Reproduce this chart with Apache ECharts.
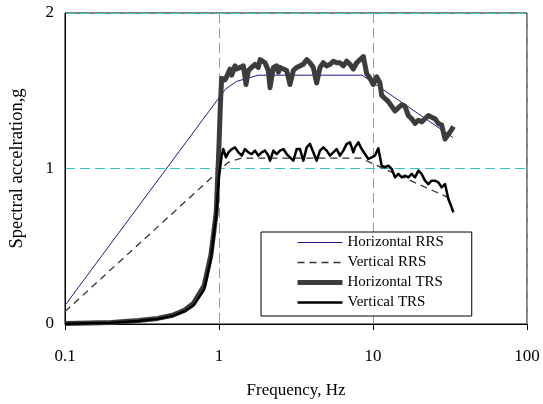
<!DOCTYPE html>
<html>
<head>
<meta charset="utf-8">
<script src="https://cdn.jsdelivr.net/npm/echarts@6/dist/echarts.min.js"></script>
<style>html,body{margin:0;padding:0;background:#fff}#c{width:543px;height:404px}</style>
</head>
<body>
<div id="c"></div>
<script>
// Tick values
var yTicks = [0, 1, 2];
var xRange = [0.1, 100];

// Required response spectra [frequency Hz, acceleration g]
var horizontalRRS = [[0.1,0.12],[1.1,1.51],[1.3,1.56],[1.8,1.6],[8.5,1.6],[33,1.2]];
var verticalRRS = [[0.1,0.08],[1.15,1.04],[1.4,1.067],[8.3,1.067],[33,0.8]];

// Test response spectra [frequency Hz, acceleration g]
var horizontalTRS = [
[0.1,0.003],[0.2,0.01],[0.3,0.022],[0.4,0.036],[0.5,0.056],[0.6,0.09],[0.684,0.134],[0.8,0.246],[0.887,0.447],[0.959,0.715],[1.0,1.15],[1.02,1.4],[1.04,1.58],
[1.094,1.57],[1.121,1.59],[1.179,1.64],[1.21,1.6],[1.239,1.6],[1.27,1.66],[1.302,1.64],[1.369,1.65],[1.439,1.66],[1.475,1.59],[1.497,1.54],[1.551,1.63],[1.630,1.65],[1.713,1.67],[1.800,1.65],[1.85,1.7],[1.893,1.71],[1.990,1.68],[2.091,1.63],[2.145,1.52],[2.254,1.65],[2.369,1.66],[2.43,1.62],[2.490,1.65],[2.617,1.64],[2.750,1.63],[2.891,1.54],[3.039,1.63],[3.194,1.65],[3.357,1.66],[3.528,1.67],[3.709,1.70],[3.898,1.68],[4.097,1.65],[4.307,1.55],[4.527,1.65],[4.758,1.68],[5.002,1.66],[5.257,1.67],[5.526,1.69],[5.808,1.68],[6.106,1.68],[6.418,1.66],[6.745,1.69],[7.091,1.67],[7.453,1.64],[7.833,1.68],[8.234,1.70],[8.655,1.72],
[9.10,1.61],[9.56,1.58],[10.05,1.54],[10.56,1.59],[11.10,1.55],[11.38,1.47],[11.96,1.45],[12.58,1.43],[13.22,1.40],[13.90,1.37],[14.60,1.39],[15.36,1.41],[16.14,1.40],[16.96,1.34],[17.83,1.32],[18.74,1.29],[19.70,1.31],[20.70,1.30],[21.76,1.32],[22.87,1.34],[24.04,1.33],[25.27,1.32],[26.56,1.29],[27.92,1.28],[29.35,1.19],[30.85,1.22],[32.43,1.25],[33.25,1.27]
];
var verticalTRS = [
[0.1,0.002],[0.2,0.008],[0.3,0.02],[0.4,0.033],[0.5,0.052],[0.6,0.082],[0.684,0.12],[0.8,0.22],[0.887,0.42],[0.959,0.70],[1.0,0.95],[1.04,1.08],
[1.066,1.125],[1.094,1.115],[1.11,1.072],[1.151,1.104],[1.211,1.125],[1.270,1.136],[1.336,1.104],[1.405,1.083],[1.475,1.125],[1.551,1.104],[1.630,1.093],[1.713,1.115],[1.800,1.083],[1.893,1.104],[1.990,1.115],[2.091,1.083],[2.145,1.05],[2.254,1.115],[2.369,1.093],[2.490,1.115],[2.617,1.125],[2.750,1.093],[2.891,1.072],[3.039,1.05],[3.194,1.125],[3.357,1.125],[3.528,1.05],[3.709,1.136],[3.898,1.158],[4.097,1.104],[4.307,1.05],[4.527,1.115],[4.758,1.136],[5.002,1.115],[5.257,1.083],[5.526,1.104],[5.808,1.125],[6.106,1.083],[6.418,1.115],[6.745,1.158],[7.091,1.168],[7.453,1.104],
[7.64,1.136],[8.03,1.168],[8.44,1.125],[8.87,1.093],[9.33,1.061],[9.80,1.072],[10.30,1.083],[10.83,1.13],[11.38,1.018],[11.96,1.008],[12.58,1.018],[13.22,0.997],[13.90,0.943],[14.60,0.965],[15.36,0.943],[16.14,0.954],[16.96,0.943],[17.83,0.965],[18.74,0.943],[19.70,0.986],[20.70,0.965],[21.76,0.922],[22.87,0.90],[24.04,0.922],[25.27,0.922],[26.56,0.911],[27.92,0.879],[29.35,0.90],[30.85,0.804],[32.43,0.75],[33.25,0.718]
];

var font = 'Liberation Serif';
var cyan = '#30c8c8';
var chart = echarts.init(document.getElementById('c'), null, {renderer:'canvas'});
chart.setOption({
  animation: false,
  backgroundColor: '#fff',
  grid: {left: 65, right: 16, top: 13, bottom: 79, show: true, borderColor: '#000', borderWidth: 1},
  legend: {
    orient: 'vertical', left: 261, top: 232,
    itemWidth: 45, itemHeight: 14, itemGap: 5,
    padding: [3, 28, 6, 34],
    borderColor: '#000', borderWidth: 1, borderRadius: 0, backgroundColor: '#fff',
    itemStyle: {opacity: 0},
    lineStyle: {width: 'inherit'},
    textStyle: {fontFamily: font, fontSize: 15, color: '#000'},
    data: ['Horizontal RRS', 'Vertical RRS', 'Horizontal TRS', 'Vertical TRS']
  },
  xAxis: {
    type: 'log', logBase: 10, min: xRange[0], max: xRange[1],
    name: 'Frequency, Hz', nameLocation: 'middle', nameGap: 58,
    nameTextStyle: {fontFamily: font, fontSize: 17, color: '#000'},
    axisLine: {lineStyle: {color: '#000', width: 1}},
    axisTick: {show: true, length: 6, lineStyle: {color: '#000'}},
    minorTick: {show: false},
    axisLabel: {fontFamily: font, fontSize: 17, color: '#000', margin: 24},
    splitLine: {show: true, lineStyle: {color: cyan, type: [10, 5], width: 1, opacity: 1}}
  },
  yAxis: {
    type: 'value', min: yTicks[0], max: yTicks[yTicks.length - 1], interval: 1,
    name: 'Spectral accelration,g', nameLocation: 'middle', nameGap: 38, nameRotate: 90,
    nameTextStyle: {fontFamily: font, fontSize: 18.5, color: '#000'},
    axisLine: {show: true, lineStyle: {color: '#000', width: 1}},
    axisTick: {show: false},
    axisLabel: {fontFamily: font, fontSize: 17, color: '#000', margin: 11},
    splitLine: {show: true, lineStyle: {color: cyan, type: [10, 5], width: 1, opacity: 1}}
  },
  series: [
    {name: 'Horizontal RRS', type: 'line', data: horizontalRRS, symbol: 'none',
     lineStyle: {color: '#1c1c8c', width: 1}, itemStyle: {color: '#1c1c8c'}},
    {name: 'Vertical RRS', type: 'line', data: verticalRRS, symbol: 'none',
     lineStyle: {color: '#333', width: 1.3, type: [7, 5]}, itemStyle: {color: '#333'}},
    {name: 'Horizontal TRS', type: 'line', data: horizontalTRS, symbol: 'none',
     lineStyle: {color: '#3c3c3c', width: 5, join: 'round'}, itemStyle: {color: '#3c3c3c'}},
    {name: 'Vertical TRS', type: 'line', data: verticalTRS, symbol: 'none',
     lineStyle: {color: '#000', width: 2.5, join: 'round'}, itemStyle: {color: '#000'}}
  ]
});
</script>
</body>
</html>
